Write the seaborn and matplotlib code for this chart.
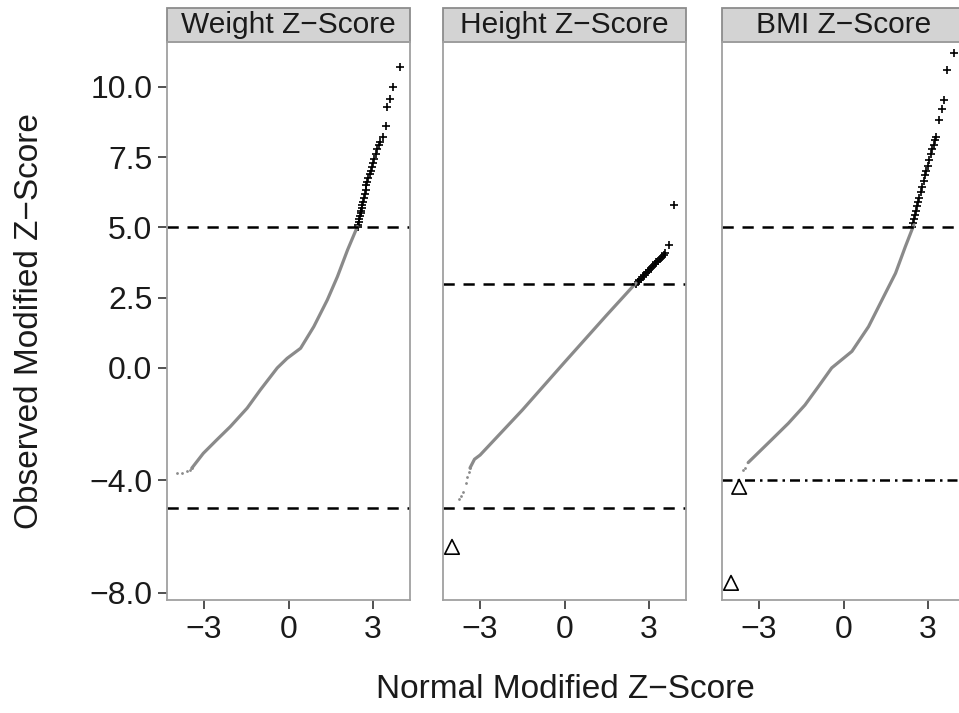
import numpy as np
import pandas as pd
import seaborn as sns
import matplotlib.pyplot as plt
from matplotlib.patches import Rectangle

# panels
panels = ["Weight Z\u2212Score", "Height Z\u2212Score", "BMI Z\u2212Score"]

# grey curve (normal quantile, observed)
wt_line_x = [-3.44, -3.03, -2.55, -2.07, -1.47, -1.0, -0.4, -0.05, 0.43, 0.9, 1.38, 1.74, 2.1, 2.45]
wt_line_y = [-3.57, -3.04, -2.56, -2.09, -1.43, -0.78, 0.0, 0.34, 0.7, 1.47, 2.42, 3.25, 4.2, 5.03]
ht_line_x = [-3.36, -3.2, -3.0, -1.5, 0.0, 1.5, 2.54]
ht_line_y = [-3.56, -3.25, -3.1, -1.5, 0.2, 1.88, 3.02]
bmi_line_x = [-3.39, -2.56, -1.96, -1.37, -0.89, -0.42, 0.3, 0.89, 1.49, 1.85, 2.2, 2.5]
bmi_line_y = [-3.37, -2.56, -1.97, -1.32, -0.66, 0.0, 0.59, 1.47, 2.66, 3.37, 4.32, 5.09]

# sparse tail dots at the low end
wt_tail_x = [-3.96, -3.8, -3.6, -3.5, -3.43]
wt_tail_y = [-3.74, -3.74, -3.68, -3.62, -3.56]
ht_tail_x = [-3.75, -3.68, -3.6, -3.5, -3.45, -3.4, -3.36]
ht_tail_y = [-4.66, -4.55, -4.42, -4.1, -3.9, -3.7, -3.56]
bmi_tail_x = [-3.57, -3.5]
bmi_tail_y = [-3.63, -3.55]

# flagged high values (+)
wt_plus_x = [2.46, 2.48, 2.5, 2.52, 2.54, 2.56, 2.58, 2.6, 2.62, 2.65, 2.68, 2.71, 2.74, 2.77,
             2.8, 2.84, 2.88, 2.92, 2.96, 3.0, 3.05, 3.1, 3.15, 3.2, 3.25, 3.36, 3.46, 3.5, 3.6, 3.7, 3.96]
wt_plus_y = [5.0, 5.1, 5.2, 5.3, 5.4, 5.5, 5.6, 5.7, 5.8, 5.9, 6.05, 6.2, 6.35, 6.5,
             6.6, 6.75, 6.9, 7.0, 7.15, 7.3, 7.45, 7.6, 7.8, 7.95, 8.05, 8.22, 8.6, 9.3, 9.57, 10.0, 10.7]
ht_plus_x = [2.54, 2.6, 2.66, 2.72, 2.78, 2.84, 2.9, 2.96, 3.02, 3.08, 3.14, 3.2, 3.26, 3.32,
             3.38, 3.45, 3.52, 3.57, 3.7, 3.9]
ht_plus_y = [3.0, 3.06, 3.12, 3.18, 3.25, 3.31, 3.37, 3.43, 3.5, 3.56, 3.62, 3.7, 3.76, 3.82,
             3.88, 3.95, 4.02, 4.09, 4.38, 5.8]
bmi_plus_x = [2.43, 2.46, 2.5, 2.54, 2.58, 2.62, 2.66, 2.7, 2.75, 2.8, 2.85, 2.9, 2.95, 3.0,
              3.05, 3.1, 3.15, 3.2, 3.25, 3.29, 3.39, 3.5, 3.57, 3.68, 3.93]
bmi_plus_y = [5.02, 5.15, 5.3, 5.45, 5.6, 5.75, 5.9, 6.05, 6.25, 6.45, 6.65, 6.85, 7.0, 7.2,
              7.4, 7.6, 7.8, 7.95, 8.1, 8.22, 8.83, 9.2, 9.54, 10.6, 11.2]

# flagged low values (triangles)
ht_tri_x = [-4.0]
ht_tri_y = [-6.37]
bmi_tri_x = [-3.71, -4.0]
bmi_tri_y = [-4.23, -7.65]

# cut-offs
upper_cut = [5.0, 3.0, 5.0]
lower_cut = [-5.0, -5.0, -4.0]
lower_style = [(0, (4.5, 3.5)), (0, (4.5, 3.5)), (0, (4, 2, 1, 2))]

y_ticks = [10.0, 7.5, 5.0, 2.5, 0.0, -4.0, -8.0]
x_ticks = [-3, 0, 3]

lines = [(wt_line_x, wt_line_y), (ht_line_x, ht_line_y), (bmi_line_x, bmi_line_y)]
tails = [(wt_tail_x, wt_tail_y), (ht_tail_x, ht_tail_y), (bmi_tail_x, bmi_tail_y)]
pluses = [(wt_plus_x, wt_plus_y), (ht_plus_x, ht_plus_y), (bmi_plus_x, bmi_plus_y)]
tris = [([], []), (ht_tri_x, ht_tri_y), (bmi_tri_x, bmi_tri_y)]

sns.set_theme(style="white")
plt.rcParams['font.family'] = ['Liberation Sans', 'DejaVu Sans']

W, H = 959, 713
fig = plt.figure(figsize=(W / 100, H / 100), dpi=100)
lefts = [167, 443, 722]
pw, top, bottom = 243, 42, 600
strip_h = 34
spine_c = "#a0a0a0"

for i, name in enumerate(panels):
    ax = fig.add_axes([lefts[i] / W, (H - bottom) / H, pw / W, (bottom - top) / H])
    lx, ly = lines[i]
    sns.lineplot(x=lx, y=ly, ax=ax, sort=False, estimator=None, color="#8a8a8a", linewidth=2.3)
    tx, ty = tails[i]
    sns.scatterplot(x=tx, y=ty, ax=ax, color="#8a8a8a", s=4, linewidth=0)
    px, py = pluses[i]
    sns.scatterplot(x=px, y=py, ax=ax, marker="+", color="black", s=30, linewidth=1.2)
    trx, tr_y = tris[i]
    if trx:
        sns.scatterplot(x=trx, y=tr_y, ax=ax, marker="^", s=110, facecolors="none",
                        edgecolor="black", linewidth=1.2)
    ax.axhline(upper_cut[i], color="black", linewidth=1.8, linestyle=(0, (4.5, 3.5)))
    ax.axhline(lower_cut[i], color="black", linewidth=1.8, linestyle=lower_style[i])

    ax.set_xlim(-4.32, 4.32)
    ax.set_ylim(-8.26, 11.6)
    ax.set_xticks(x_ticks)
    ax.set_xticklabels([f"{t:d}".replace("-", "\u2212") for t in x_ticks])
    ax.set_yticks(y_ticks)
    if i == 0:
        ax.set_yticklabels([f"{t:.1f}".replace("-", "\u2212") for t in y_ticks])
    else:
        ax.set_yticklabels([])
    ax.tick_params(axis="both", direction="out", length=6.5, width=1.2, color="#333333",
                   labelsize=23, pad=4, labelcolor="#1a1a1a", bottom=True, left=True)
    if i > 0:
        ax.tick_params(axis="y", left=False)
    for sp in ax.spines.values():
        sp.set_color(spine_c)
        sp.set_linewidth(1.3)
    ax.set_xlabel("")
    ax.set_ylabel("")

    # facet strip
    sh = strip_h / (bottom - top)
    ax.add_patch(Rectangle((0, 1), 1, sh, transform=ax.transAxes, clip_on=False,
                           facecolor="#d3d3d3", edgecolor="#8c8c8c", linewidth=1.3))
    ax.text(0.5, 1 + sh / 2, name, transform=ax.transAxes, ha="center", va="center",
            fontsize=21.5, color="#1a1a1a")

fig.text(565 / W, 1 - 690 / H, "Normal Modified Z\u2212Score", ha="center", va="center",
         fontsize=24, color="#1a1a1a")
fig.text(30 / W, 1 - 321 / H, "Observed Modified Z\u2212Score", ha="center", va="center",
         rotation=90, fontsize=24, color="#1a1a1a")

fig.savefig("out.png", dpi=100)
